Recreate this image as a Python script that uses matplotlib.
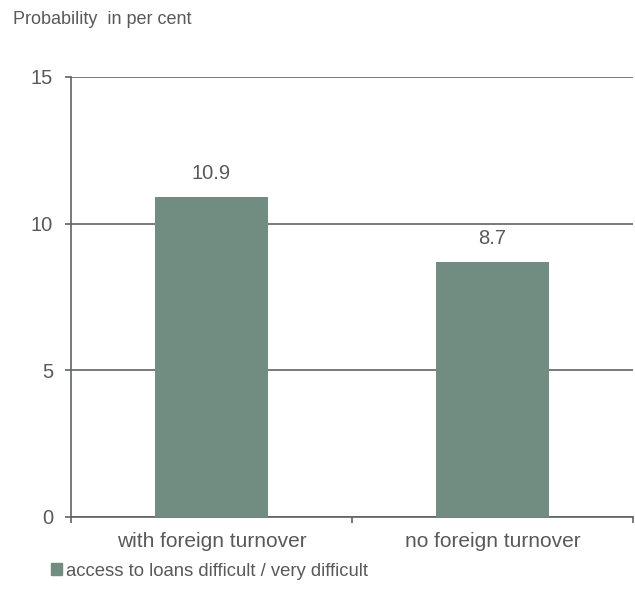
import matplotlib
matplotlib.use("Agg")
import matplotlib.pyplot as plt
from matplotlib.patches import Patch

categories = ["with foreign turnover", "no foreign turnover"]
values = [10.9, 8.7]
series_name = "access to loans difficult / very difficult"
y_ticks = [0, 5, 10, 15]

bar_color = "#718c80"
text_color = "#595959"
line_color = "#5f6368"

plt.rcParams['font.family'] = ['Liberation Sans', 'DejaVu Sans']

fig = plt.figure(figsize=(6.35, 5.99), dpi=100)
ax = fig.add_axes([71/635, 1 - 517/599, (633-71)/635, (517-77)/599])

x = list(range(len(categories)))
bars = ax.bar(x, values, width=0.4, color=bar_color, zorder=3)
for xi, v in zip(x, values):
    ax.annotate(f"{v:.1f}", (xi, v), xytext=(0, 10), textcoords="offset points",
                ha="center", va="bottom", fontsize=14.5, color=text_color)

ax.set_xlim(-0.5, len(categories) - 0.5)
ax.set_ylim(0, 15)
ax.set_yticks(y_ticks)
ax.set_yticklabels([str(t) for t in y_ticks])
ax.yaxis.grid(True, color=line_color, linewidth=1.2, zorder=0)
ax.set_axisbelow(True)

ax.set_xticks([-0.5, 0.5, 1.5])
ax.set_xticklabels([])
ax.set_xticks(x, minor=True)
ax.set_xticklabels(categories, minor=True)
ax.tick_params(axis="x", which="minor", length=0, pad=11, labelsize=15, labelcolor=text_color)
ax.tick_params(axis="x", which="major", length=4, width=1.2, color=line_color, direction="out")
ax.tick_params(axis="y", length=4, width=1.2, color=line_color, labelsize=14.5, labelcolor=text_color, pad=9)

for s in ["top", "right"]:
    ax.spines[s].set_visible(False)
for s in ["left", "bottom"]:
    ax.spines[s].set_color(line_color)
    ax.spines[s].set_linewidth(1.2)

fig.text(13/635, 1 - 20/599, "Probability  in per cent", fontsize=13, color=text_color,
         ha="left", va="center")

leg = fig.legend(handles=[Patch(color=bar_color, label=series_name)],
                 loc="center left", bbox_to_anchor=(34/635, 1 - 571/599), frameon=False,
                 fontsize=13.3, handlelength=0.6, handleheight=0.6, handletextpad=0.25,
                 labelcolor=text_color)

fig.savefig("out.png", dpi=100)
